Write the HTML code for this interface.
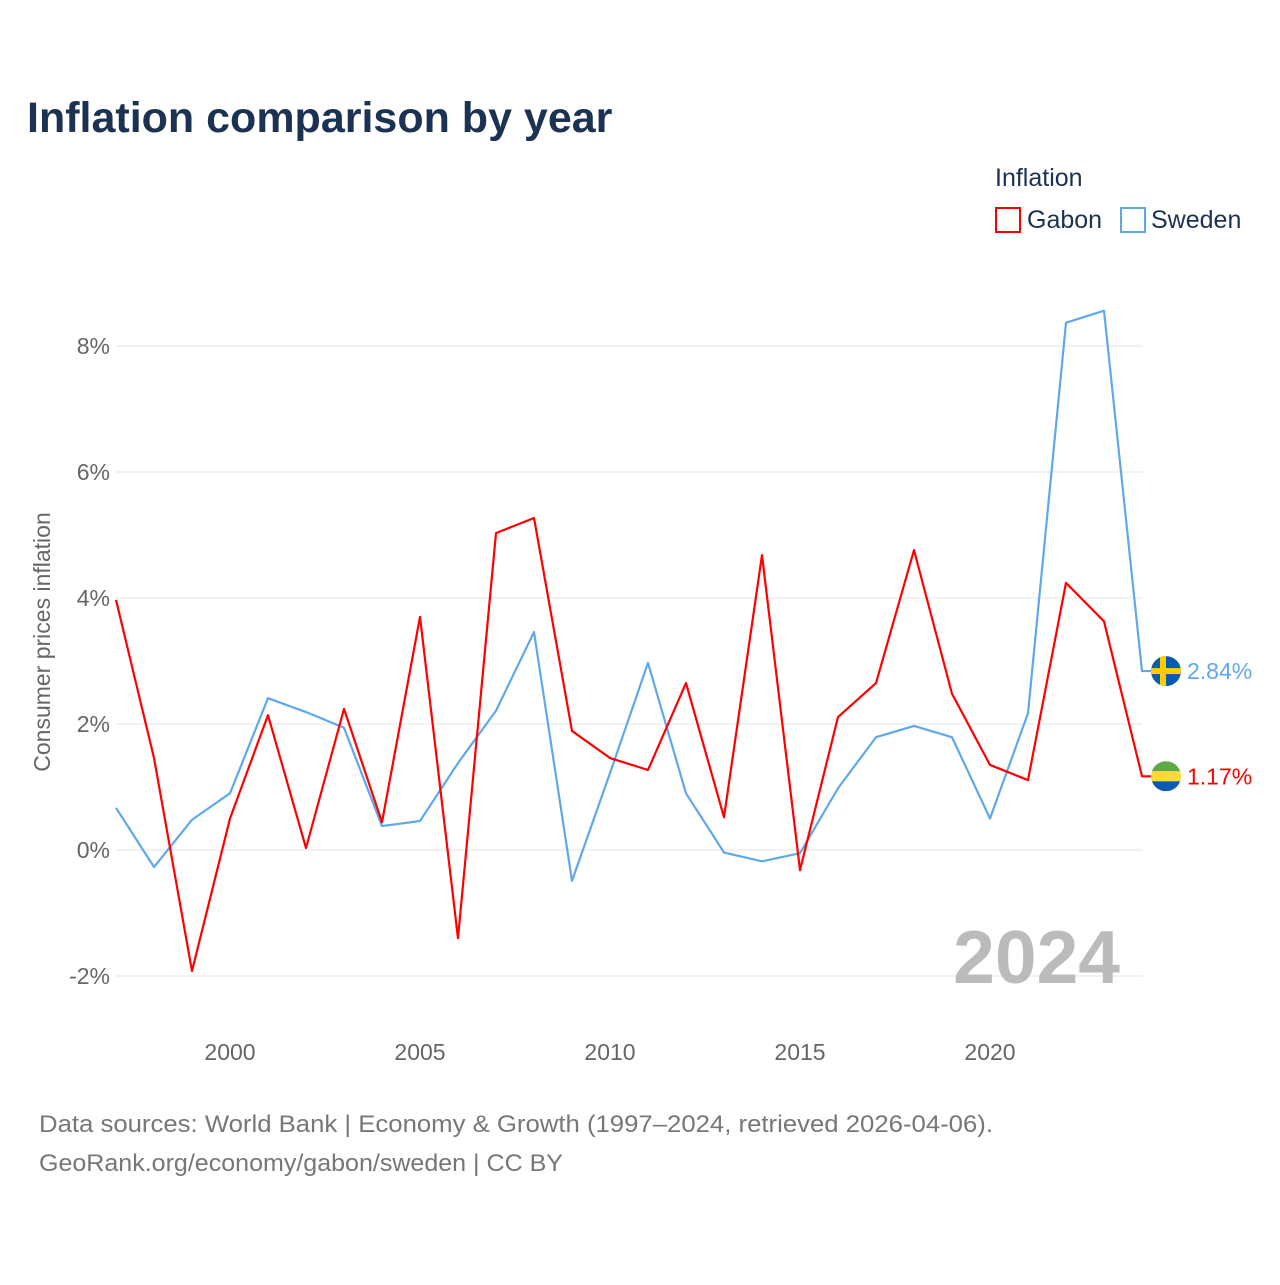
<!DOCTYPE html>
<html><head><meta charset="utf-8"><style>
body{margin:0;background:#fff;font-family:"Liberation Sans",sans-serif}
svg text{font-family:"Liberation Sans",sans-serif}
</style></head><body>
<svg id="chart" width="1280" height="1280" viewBox="0 0 1280 1280" xmlns="http://www.w3.org/2000/svg">
<rect width="1280" height="1280" fill="#fff"/>
<text x="27" y="132" font-size="43" font-weight="bold" fill="#1b3252">Inflation comparison by year</text>
<text x="995" y="186" font-size="25" fill="#1b3252">Inflation</text>
<g><rect x="996" y="208" width="24" height="24" fill="#fff" stroke="#f00" stroke-width="2"/><text x="1027" y="228" font-size="25" fill="#1b3252">Gabon</text></g>
<g><rect x="1121" y="208" width="24" height="24" fill="#fff" stroke="#5fa8ea" stroke-width="2"/><text x="1151" y="228" font-size="25" fill="#1b3252">Sweden</text></g>
<text transform="translate(50,642) rotate(-90)" text-anchor="middle" font-size="23" fill="#666">Consumer prices inflation</text>
<g id="grid"></g><g id="ticks"></g>
<text x="1120" y="983" text-anchor="end" font-size="75" font-weight="bold" fill="#bbb">2024</text>
<g id="lines"></g>
<text x="39" y="1132" font-size="24" fill="#777" textLength="954" lengthAdjust="spacingAndGlyphs">Data sources: World Bank | Economy &amp; Growth (1997–2024, retrieved 2026-04-06).</text>
<text x="39" y="1171" font-size="24" fill="#777" textLength="524" lengthAdjust="spacingAndGlyphs">GeoRank.org/economy/gabon/sweden | CC BY</text>
</svg>
<script>
const years=[1997,1998,1999,2000,2001,2002,2003,2004,2005,2006,2007,2008,2009,2010,2011,2012,2013,2014,2015,2016,2017,2018,2019,2020,2021,2022,2023,2024];
const gabon=[3.97,1.46,-1.92,0.5,2.14,0.03,2.24,0.44,3.7,-1.4,5.03,5.27,1.89,1.46,1.27,2.65,0.52,4.68,-0.32,2.11,2.65,4.76,2.48,1.35,1.11,4.24,3.63,1.17];
const sweden=[0.67,-0.27,0.48,0.9,2.41,2.19,1.94,0.38,0.46,1.38,2.21,3.46,-0.49,1.22,2.97,0.9,-0.04,-0.18,-0.05,0.98,1.79,1.97,1.79,0.5,2.17,8.37,8.56,2.84];
const yTicks=[-2,0,2,4,6,8];
const xTicks=[2000,2005,2010,2015,2020];
const NS="http://www.w3.org/2000/svg";
const X=v=>116+(v-1997)*38;
const Y=v=>850-v*63;
function mk(t,a,p){const e=document.createElementNS(NS,t);for(const k in a)e.setAttribute(k,a[k]);p.appendChild(e);return e;}
const grid=document.getElementById('grid'),ticks=document.getElementById('ticks'),lines=document.getElementById('lines');
yTicks.forEach(v=>{
 const l=mk('line',{x1:116,x2:1142,y1:Y(v),y2:Y(v),stroke:'#e6e6e6','stroke-width':1},grid);
 
 
 const t=mk('text',{x:110,y:Y(v)+8,'text-anchor':'end','font-size':23,fill:'#666'},ticks);
 t.textContent=v+'%';
 
 
});
xTicks.forEach(v=>{
 const t=mk('text',{x:X(v),y:1060,'text-anchor':'middle','font-size':23,fill:'#666'},ticks);
 t.textContent=v;
 
 
});
function series(vals,color,name,flag){
 const pts=vals.map((v,i)=>X(years[i])+','+Y(v));
 const last=vals[vals.length-1];
 pts.push((X(2024)+10)+','+Y(last));
 const p=mk('polyline',{points:pts.join(' '),fill:'none',stroke:color,'stroke-width':2.2,'stroke-linejoin':'round'},lines);
 
 
 const g=mk('g',{},lines);
 
 
 const cy=Y(last),cx=1166;
 const id='clip'+name;
 const cp=mk('clipPath',{id:id},g);mk('circle',{cx:cx,cy:cy,r:15},cp);
 const gg=mk('g',{'clip-path':'url(#'+id+')'},g);
 if(flag==='se'){mk('rect',{x:cx-15,y:cy-15,width:30,height:30,fill:'#0a5bb0'},gg);mk('rect',{x:cx-15,y:cy-3,width:30,height:6,fill:'#fecc02'},gg);mk('rect',{x:cx-6,y:cy-15,width:6,height:30,fill:'#fecc02'},gg);}
 else{mk('rect',{x:cx-15,y:cy-15,width:30,height:10,fill:'#5fa846'},gg);mk('rect',{x:cx-15,y:cy-5,width:30,height:10,fill:'#fcd83b'},gg);mk('rect',{x:cx-15,y:cy+5,width:30,height:10,fill:'#0a5bb0'},gg);}
 const t=mk('text',{x:1187,y:cy+8,'font-size':23,fill:color},lines);
 t.textContent=last.toFixed(2)+'%';
 
 
}
series(sweden,'#5fa8ea','sweden','se');
series(gabon,'#f00','gabon','ga');
</script>
</body></html>
